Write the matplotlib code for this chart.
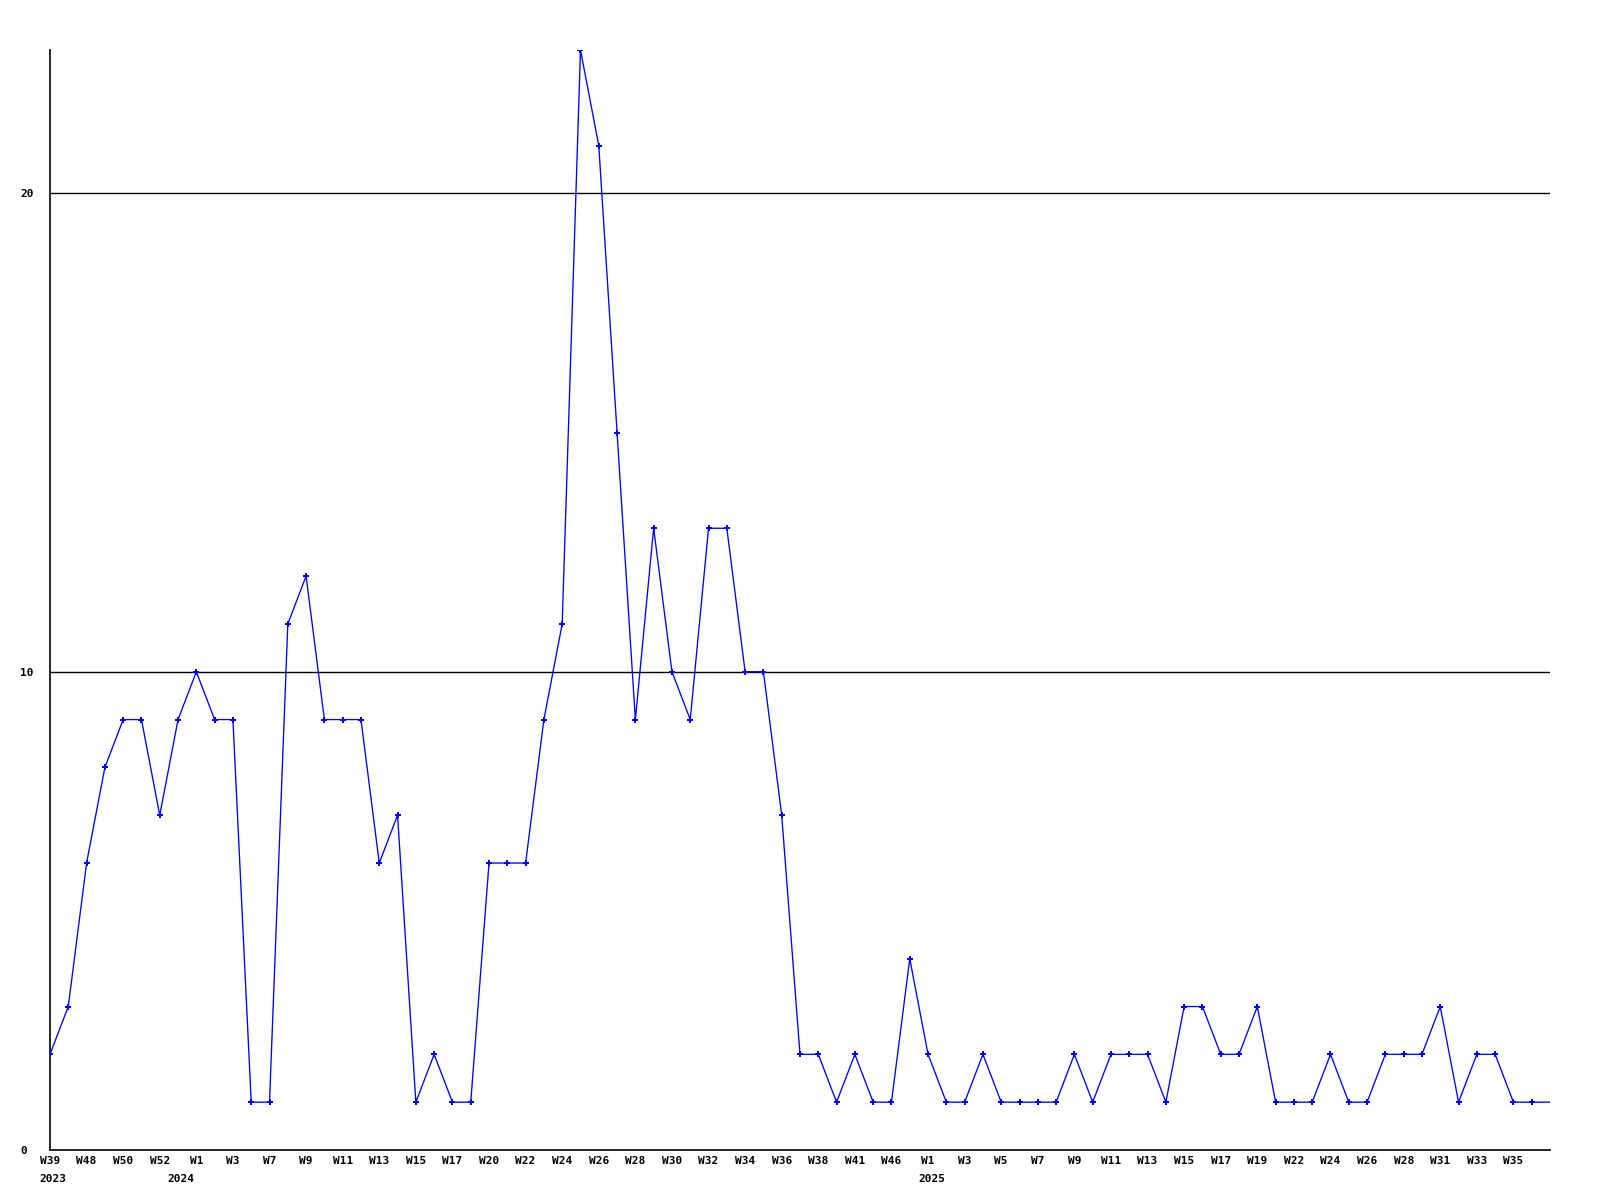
import matplotlib
matplotlib.use("Agg")
import matplotlib.pyplot as plt
import numpy as np

# weekly counts, one per plotted week
values = [2, 3, 6, 8, 9, 9, 7, 9, 10, 9,
          9, 1, 1, 11, 12, 9, 9, 9, 6, 7,
          1, 2, 1, 1, 6, 6, 6, 9, 11, 23,
          21, 15, 9, 13, 10, 9, 13, 13, 10, 10,
          7, 2, 2, 1, 2, 1, 1, 4, 2, 1,
          1, 2, 1, 1, 1, 1, 2, 1, 2, 2,
          2, 1, 3, 3, 2, 2, 3, 1, 1, 1,
          2, 1, 1, 2, 2, 2, 3, 1, 2, 2,
          1, 1, 1]

# labels on every other week
week_labels = ["W39", "W48", "W50", "W52", "W1", "W3", "W7", "W9", "W11", "W13",
               "W15", "W17", "W20", "W22", "W24", "W26", "W28", "W30", "W32", "W34",
               "W36", "W38", "W41", "W46", "W1", "W3", "W5", "W7", "W9", "W11",
               "W13", "W15", "W17", "W19", "W22", "W24", "W26", "W28", "W31", "W33",
               "W35"]

years = ["2023", "2024", "2025"]
year_idx = [0, 8, 48]
year_offset = [-8, -21, -7]   # points, left edge of the year text

ylines = [10, 20]

font = "DejaVu Sans Mono"

x = np.arange(len(values))

fig = plt.figure(figsize=(16, 12), dpi=100)
ax = fig.add_axes([50 / 1600, 50 / 1200, 1500 / 1600, 1100 / 1200])

for yv in ylines:
    ax.axhline(yv, color="black", lw=1.0, zorder=1)

ax.plot(x, values, color="#0000ff", lw=0.95, marker="P", markersize=4,
        markeredgewidth=0, markevery=list(range(len(values) - 1)), zorder=3)

ax.set_xlim(0, len(values) - 1)
ax.set_ylim(0, 23)

for s in ["top", "right"]:
    ax.spines[s].set_visible(False)
for s in ["left", "bottom"]:
    ax.spines[s].set_linewidth(1.2)
    ax.spines[s].set_color("black")

ax.set_xticks(x[::2][:len(week_labels)])
ax.set_xticklabels(week_labels, fontfamily=font, fontweight="bold", fontsize=8)
ax.tick_params(axis="x", length=0, pad=4)

ax.set_yticks([0] + ylines)
ax.set_yticklabels(["0"] + [str(v) for v in ylines], fontfamily=font,
                   fontweight="bold", fontsize=8, ha="left")
ax.tick_params(axis="y", length=0, pad=21.5)

for yr, i, off in zip(years, year_idx, year_offset):
    ax.annotate(yr, xy=(i, 0), xycoords=("data", "axes fraction"),
                xytext=(off, -17), textcoords="offset points",
                ha="left", va="top", fontfamily=font, fontweight="bold",
                fontsize=8)

fig.savefig("out.png", dpi=100)
